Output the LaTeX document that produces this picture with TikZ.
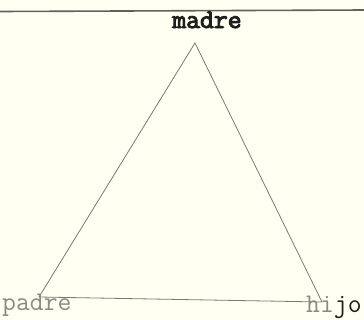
\documentclass[tikz,border=0pt]{standalone}
\usepackage{fontspec}
\setmonofont[AutoFakeBold=3.5]{Latin Modern Mono}
\definecolor{paper}{HTML}{FFFFF2}
\definecolor{ink}{HTML}{1E1E1E}
\definecolor{pencil}{HTML}{7A7A72}
\definecolor{faded}{HTML}{8A8A84}
\begin{document}
\begin{tikzpicture}[x=1bp,y=-1bp,
  edge/.style={draw=pencil,line width=0.8bp},
  rule/.style={draw=pencil!80!black,line width=1.6bp},
  lbl/.style={font=\ttfamily\fontsize{27}{27}\selectfont,inner sep=0pt}]
\fill[paper] (0,0) rectangle (364,320);
\useasboundingbox (0,0) rectangle (364,320);
\coordinate (L0) at (0,11.5);
\coordinate (L1) at (364,10);
\draw[rule] (L0) -- (L1);
\coordinate (M) at (195,43);
\coordinate (P) at (39,297);
\coordinate (H) at (322,302);
\draw[edge] (P) -- (M) -- (H) -- (P);
\node[lbl,anchor=base,text=ink,font=\ttfamily\bfseries\fontsize{27}{27}\selectfont] (madre) at (207,28) {madre};
\node[lbl,anchor=base west,text=faded] (padre) at (2,310) {padre};
\node[lbl,anchor=base west,text=ink] (hijo) at (306,312) {\textcolor{faded}{hi}jo};
\end{tikzpicture}
\end{document}
